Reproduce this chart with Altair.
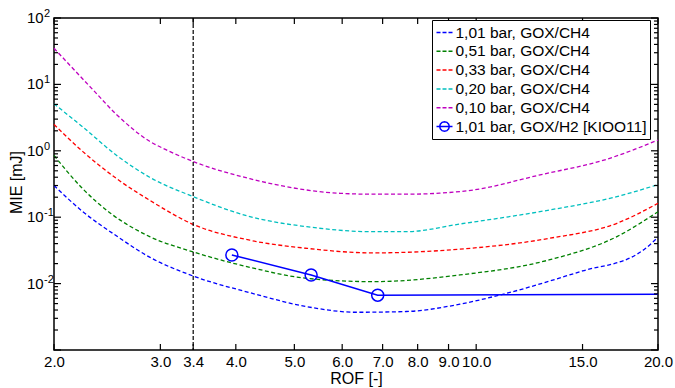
import altair as alt
import pandas as pd

FONT = "Liberation Sans"

series_names = ["1,01 bar, GOX/CH4", "0,51 bar, GOX/CH4", "0,33 bar, GOX/CH4",
                "0,20 bar, GOX/CH4", "0,10 bar, GOX/CH4", "1,01 bar, GOX/H2 [KIOO11]"]
series_colors = ["#0000ff", "#008000", "#ff0000", "#00bfbf", "#bf00bf", "#0000ff"]

rof_101 = [2.0, 2.23, 2.54, 2.88, 3.4, 4.22, 5.24, 6.33, 7.66, 9.4, 11.2, 15.0, 18.5, 19.0, 20.0]
mie_101 = [0.30, 0.122, 0.052, 0.025, 0.013, 0.0073, 0.0045, 0.0037, 0.0038, 0.0049, 0.0071, 0.0155, 0.028, 0.033, 0.050]

rof_051 = [2.0, 2.23, 2.48, 2.88, 3.4, 4.22, 5.24, 6.74, 9.4, 13.2, 17.1, 20.0]
mie_051 = [0.85, 0.27, 0.115, 0.051, 0.030, 0.0176, 0.012, 0.0107, 0.0135, 0.0227, 0.051, 0.121]

rof_033 = [2.0, 2.23, 2.54, 2.88, 3.4, 4.22, 5.24, 6.74, 9.4, 13.2, 17.1, 20.0]
mie_033 = [2.5, 0.98, 0.38, 0.18, 0.078, 0.045, 0.034, 0.029, 0.033, 0.048, 0.081, 0.162]

rof_020 = [2.0, 2.23, 2.54, 2.88, 3.4, 4.22, 5.24, 6.74, 7.66, 9.4, 13.2, 17.1, 20.0]
mie_020 = [5.1, 2.3, 0.85, 0.40, 0.204, 0.102, 0.072, 0.0605, 0.0605, 0.079, 0.128, 0.204, 0.31]

rof_010 = [2.0, 2.32, 2.54, 2.88, 3.07, 3.4, 4.22, 5.95, 6.74, 7.66, 8.7, 9.9, 12.7, 16.4, 20.0]
mie_010 = [35, 8.3, 3.5, 1.39, 1.03, 0.69, 0.38, 0.229, 0.222, 0.222, 0.23, 0.257, 0.43, 0.74, 1.45]

rof_h2 = [3.94, 5.33, 6.87, 20.0]
mie_h2 = [0.027, 0.0135, 0.0067, 0.0069]
marker_h2 = [True, True, True, False]

x_tick_values = [2.0, 3.0, 3.4, 4.0, 5.0, 6.0, 7.0, 8.0, 9.0, 10.0, 15.0, 20.0]
y_major_ticks = [0.001, 0.01, 0.1, 1, 10, 100]
y_minor_ticks = [m * 10.0 ** k for k in range(-3, 2) for m in range(2, 10)]
y_label_values = [0.01, 0.1, 1, 10, 100]
y_label_exp = ["-2", "-1", "0", "1", "2"]
ref_line_rof = [3.4]

W, H = 604, 332

# ---- data tables ----
ch4_sets = [(rof_101, mie_101), (rof_051, mie_051), (rof_033, mie_033),
            (rof_020, mie_020), (rof_010, mie_010)]
rows = []
for name, (rs, ms) in zip(series_names[:5], ch4_sets):
    for r, m in zip(rs, ms):
        rows.append({"series": name, "rof": r, "mie": m})
ch4_df = pd.DataFrame(rows)
h2_df = pd.DataFrame({"rof": rof_h2, "mie": mie_h2, "marker": marker_h2})
legend_df = pd.DataFrame({"series": series_names})

xs = alt.Scale(type="log", domain=[2, 20], nice=False)
ys = alt.Scale(type="log", domain=[0.001, 100], nice=False)
line_color_scale = alt.Scale(domain=series_names[:5], range=series_colors[:5])
color_scale = alt.Scale(domain=series_names, range=series_colors)

# legend glyphs: a short dashed stroke, and a stroke through a ring
dash_path = "M-1,0L-0.5,0M-0.25,0L0.25,0M0.5,0L1,0"
ring = ("M0.6,0L0.52,0.3L0.3,0.52L0,0.6L-0.3,0.52L-0.52,0.3L-0.6,0L-0.52,-0.3"
        "L-0.3,-0.52L0,-0.6L0.3,-0.52L0.52,-0.3Z")
h2_path = "M-1,0L1,0" + ring
shape_scale = alt.Scale(domain=series_names, range=[dash_path] * 5 + [h2_path])

x_axis = alt.Axis(values=x_tick_values, format=".1f", labelFontSize=15, labelFont=FONT,
                  labelColor="black", labelPadding=4, labelOverlap=False, labelFlush=False,
                  ticks=False, domain=False, grid=False, title="ROF [-]", titleFontSize=16,
                  titleFont=FONT, titleFontWeight="normal", titleColor="black",
                  titleY=33, titleBaseline="alphabetic")
y_axis = alt.Axis(labels=False, ticks=False, domain=False, grid=False, title="MIE [mJ]",
                  titleFontSize=16, titleFont=FONT, titleFontWeight="normal",
                  titleColor="black", titleX=-33, titleY=164, titleBaseline="alphabetic")

def X(f):
    return alt.X(f, scale=xs, axis=x_axis)

def Y(f):
    return alt.Y(f, scale=ys, axis=y_axis)

ch4_lines = alt.Chart(ch4_df).mark_line(strokeDash=[4, 2.5], strokeWidth=1.3,
                                        interpolate="monotone").encode(
    x=X("rof:Q"), y=Y("mie:Q"),
    stroke=alt.Stroke("series:N", scale=line_color_scale, legend=None),
)

h2_line = alt.Chart(h2_df).mark_line(color="#0000ff", strokeWidth=1.5).encode(
    x=X("rof:Q"), y=Y("mie:Q"))
h2_points = alt.Chart(h2_df).transform_filter("datum.marker").mark_point(
    shape="circle", size=144, filled=False, color="#0000ff", strokeWidth=1.5, opacity=1
).encode(x=X("rof:Q"), y=Y("mie:Q"))

vline = alt.Chart(pd.DataFrame({"v": ref_line_rof})).mark_rule(
    color="black", strokeDash=[4, 2], strokeWidth=1.2
).encode(x=X("v:Q"), y=alt.value(0), y2=alt.value(H))

xt_df = pd.DataFrame({"v": x_tick_values})
ymaj_df = pd.DataFrame({"v": y_major_ticks})
ymin_df = pd.DataFrame({"v": y_minor_ticks})

def xticks(y0, y1):
    return alt.Chart(xt_df).mark_rule(color="black", strokeWidth=1.2).encode(
        x=X("v:Q"), y=alt.value(y0), y2=alt.value(y1))

def yticks(df, x0, x1):
    return alt.Chart(df).mark_rule(color="black", strokeWidth=1.2).encode(
        y=Y("v:Q"), x=alt.value(x0), x2=alt.value(x1))

ylab_df = pd.DataFrame({"v": y_label_values, "e": y_label_exp})
ylab_base = alt.Chart(ylab_df).mark_text(align="left", baseline="middle", fontSize=15,
                                         font=FONT, color="black").encode(
    y=Y("v:Q"), x=alt.value(-27), text=alt.value("10"))
ylab_exp = alt.Chart(ylab_df).mark_text(align="left", baseline="middle", fontSize=11,
                                        font=FONT, color="black", dy=-4).encode(
    y=Y("v:Q"), x=alt.value(-10), text="e:N")

legend = alt.Legend(title=None, orient="none", legendX=378, legendY=2, padding=3.5,
                    rowPadding=0.8, symbolSize=256, symbolStrokeWidth=1.5, labelOffset=2,
                    labelFontSize=15.5, labelFont=FONT, labelColor="black", labelLimit=400,
                    strokeColor="black", fillColor="white")
legend_layer = alt.Chart(legend_df).transform_filter("false").mark_point(
    filled=False, opacity=1, strokeWidth=1.5
).encode(
    color=alt.Color("series:N", scale=color_scale, legend=legend),
    shape=alt.Shape("series:N", scale=shape_scale, legend=legend),
)

chart = alt.layer(
    ch4_lines, h2_line, h2_points, vline,
    xticks(H, H - 6), xticks(0, 6),
    yticks(ymaj_df, 0, 7), yticks(ymin_df, 0, 4),
    yticks(ymaj_df, W, W - 7), yticks(ymin_df, W, W - 4),
    ylab_base, ylab_exp, legend_layer,
).properties(
    width=W, height=H,
    padding={"left": 54, "top": 18, "right": 17, "bottom": 38},
    autosize="none",
).configure_view(stroke="black", strokeWidth=1.5)

chart.save("out.html", embed_options={"renderer": "svg", "actions": False})
